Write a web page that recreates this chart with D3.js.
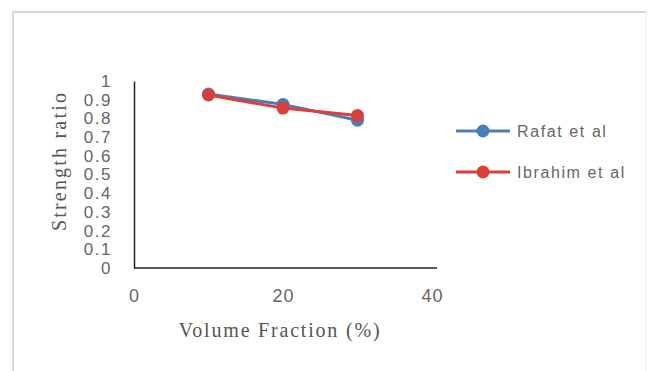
<!DOCTYPE html>
<html lang="en">
<head>
<meta charset="UTF-8">
<title>Strength ratio</title>
<style>
  * { margin: 0; padding: 0; box-sizing: border-box; }
  body { background: #fff; width: 648px; height: 371px; overflow: hidden; }
  svg { display: block; }
</style>
</head>
<body>
<svg width="648" height="371"></svg>
<script src="https://d3js.org/d3.v7.min.js"></script>
<script>
// Data
const volumeFraction = [10, 20, 30];
const rafat = [0.93, 0.875, 0.79];
const ibrahim = [0.925, 0.855, 0.815];
const seriesNames = ["Rafat et al", "Ibrahim et al"];
const seriesColors = ["#4a7ebb", "#d9403b"];
const xTicks = [0, 20, 40];
const yTicks = [0, 0.1, 0.2, 0.3, 0.4, 0.5, 0.6, 0.7, 0.8, 0.9, 1];

const svg = d3.select("svg");
const sans = "Liberation Sans, sans-serif";
const serif = "Liberation Serif, serif";

// outer frame
svg.append("line").attr("x1", 12).attr("x2", 646).attr("y1", 12).attr("y2", 12)
  .attr("stroke", "#d8d8d8").attr("stroke-width", 2);
svg.append("line").attr("x1", 13).attr("x2", 13).attr("y1", 12).attr("y2", 371)
  .attr("stroke", "#d8d8d8").attr("stroke-width", 2);
svg.append("line").attr("x1", 646).attr("x2", 646).attr("y1", 12).attr("y2", 371)
  .attr("stroke", "#eeeeee").attr("stroke-width", 1);

const x = d3.scaleLinear().domain([0, 40]).range([134, 432]);
const y = d3.scaleLinear().domain([0, 1]).range([268, 81]);

// axes
svg.append("g")
  .attr("transform", "translate(0,268)")
  .call(d3.axisBottom(x).tickValues(xTicks).tickSize(0).tickPadding(21))
  .call(g => g.select(".domain").attr("stroke", "#222").attr("stroke-width", 1.5)
    .attr("d", "M134,0H437"))
  .call(g => g.selectAll("text").attr("fill", "#666").attr("font-size", 18)
    .attr("letter-spacing", 1).attr("font-family", sans));

svg.append("g")
  .attr("transform", "translate(134,0)")
  .call(d3.axisLeft(y).tickValues(yTicks).tickSize(0).tickPadding(22)
    .tickFormat(d => d3.format("~g")(d)))
  .call(g => g.select(".domain").attr("stroke", "#222").attr("stroke-width", 1.5))
  .call(g => g.selectAll("text").attr("fill", "#666").attr("font-size", 17)
    .attr("letter-spacing", 1.5).attr("font-family", sans));

// axis titles
svg.append("text")
  .attr("x", 280).attr("y", 337)
  .attr("text-anchor", "middle")
  .attr("font-family", serif)
  .attr("font-size", 20).attr("letter-spacing", 1.8).attr("fill", "#555")
  .text("Volume Fraction (%)");

svg.append("text")
  .attr("transform", "translate(66,161) rotate(-90)")
  .attr("text-anchor", "middle")
  .attr("font-family", serif)
  .attr("font-size", 20).attr("letter-spacing", 2.2).attr("fill", "#555")
  .text("Strength ratio");

// series
const series = [rafat, ibrahim];
const line = d3.line().x((d, i) => x(volumeFraction[i])).y(d => y(d));

series.forEach((vals, s) => {
  svg.append("path")
    .datum(vals)
    .attr("d", line)
    .attr("fill", "none")
    .attr("stroke", seriesColors[s])
    .attr("stroke-width", 3);
  svg.append("g").selectAll("circle")
    .data(vals).enter().append("circle")
    .attr("cx", (d, i) => x(volumeFraction[i]))
    .attr("cy", d => y(d))
    .attr("r", 6.5)
    .attr("fill", seriesColors[s]);
});

// legend
const legend = svg.append("g");
seriesNames.forEach((name, s) => {
  const ly = 131 + s * 41;
  legend.append("line").attr("x1", 456).attr("x2", 510).attr("y1", ly).attr("y2", ly)
    .attr("stroke", seriesColors[s]).attr("stroke-width", 3);
  legend.append("circle").attr("cx", 483).attr("cy", ly).attr("r", 6.5)
    .attr("fill", seriesColors[s]);
  legend.append("text").attr("x", 517).attr("y", ly + 6)
    .attr("font-family", sans)
    .attr("font-size", 16).attr("letter-spacing", 1.6).attr("fill", "#666")
    .text(name);
});
</script>
</body>
</html>
